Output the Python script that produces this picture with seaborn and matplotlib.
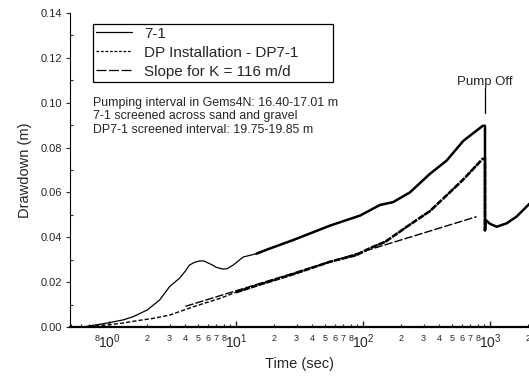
import numpy as np
import matplotlib
matplotlib.use("Agg")
import matplotlib.pyplot as plt
from matplotlib.lines import Line2D
from matplotlib.ticker import FixedLocator, FuncFormatter
import seaborn as sns

# drawdown curves (time in s, drawdown in m)
t_71 = [0.62, 0.8, 1.0, 1.3, 1.55, 2.0, 2.5, 3.0, 3.3, 3.6, 4.0, 4.3, 4.7,
        5.2, 5.6, 6.0, 6.5, 7.0, 7.9, 8.5, 9.5, 11.4, 14.5, 18.5, 28, 55, 95,
        136, 173, 234, 298, 337, 456, 617, 877, 914, 914, 925, 1000, 1130,
        1350, 1620, 2050]
dd_71 = [0.0, 0.001, 0.0019, 0.0032, 0.0046, 0.0076, 0.012, 0.018, 0.020,
         0.0218, 0.025, 0.0276, 0.0288, 0.0295, 0.0294, 0.0286, 0.0277,
         0.0266, 0.0258, 0.026, 0.0276, 0.0312, 0.0327, 0.035, 0.0387, 0.0452,
         0.0497, 0.0544, 0.0557, 0.060, 0.0655, 0.0683, 0.0742, 0.083, 0.0897,
         0.0897, 0.043, 0.0477, 0.046, 0.0447, 0.0462, 0.0492, 0.055]

t_dp = [0.62, 0.8, 1.0, 1.3, 1.75, 2.2, 3.0, 4.6, 7.5, 10, 15.5, 28, 55, 89,
        113, 150, 220, 337, 456, 617, 877, 914, 914]
dd_dp = [0.0, 0.0005, 0.001, 0.0018, 0.003, 0.0038, 0.0053, 0.009, 0.0128,
         0.0155, 0.019, 0.0235, 0.0291, 0.0321, 0.0351, 0.038, 0.0446, 0.0517,
         0.0587, 0.0658, 0.075, 0.075, 0.043]

t_slope = [4, 785]
dd_slope = [0.0092, 0.0492]

pump_off_t = 914

notes = ["Pumping interval in Gems4N: 16.40-17.01 m",
         "7-1 screened across sand and gravel",
         "DP7-1 screened interval: 19.75-19.85 m"]
legend_labels = ["7-1", "DP Installation - DP7-1", "Slope for K = 116 m/d"]

sns.set_style("ticks")
plt.rcParams['font.family'] = ['Liberation Sans', 'DejaVu Sans']
plt.rcParams['mathtext.fontset'] = 'custom'
plt.rcParams['mathtext.rm'] = 'Liberation Sans'

W, H = 529, 377
fig = plt.figure(figsize=(W / 100, H / 100), dpi=100)
ax = fig.add_axes([70 / W, 50 / H, (W - 70) / W, 314 / H])

t71 = np.array(t_71)
d71 = np.array(dd_71)
tdp = np.array(t_dp)
ddp = np.array(dd_dp)

# thin early part, thicker (noisy) later part like the original logger traces
sns.lineplot(x=t71, y=d71, ax=ax, color="k", lw=0.9, sort=False,
             estimator=None, legend=False)
late = t71 >= 12
sns.lineplot(x=t71[late], y=d71[late], ax=ax, color="k", lw=1.8, sort=False,
             estimator=None, legend=False)

sns.lineplot(x=tdp, y=ddp, ax=ax, color="k", lw=1.0, sort=False,
             estimator=None, legend=False, dashes=False)
ax.lines[-1].set_dashes((3, 1.5))
late = tdp >= 9
sns.lineplot(x=tdp[late], y=ddp[late], ax=ax, color="k", lw=1.9, sort=False,
             estimator=None, legend=False)
ax.lines[-1].set_dashes((2.5, 0.5))

sns.lineplot(x=t_slope, y=dd_slope, ax=ax, color="k", lw=1.0, sort=False,
             estimator=None, legend=False)
ax.lines[-1].set_dashes((6, 1.5))

# pump off marker
ax.plot([pump_off_t, pump_off_t], [0.0955, 0.1065], color="k", lw=0.9)
ax.text(pump_off_t, 0.1092, "Pump Off", ha="center", va="center", fontsize=9.5)

ax.set_xscale("log")
ax.set_xlim(0.493, 2030)
ax.set_ylim(0, 0.14)

majors = [1, 10, 100, 1000]
minors = [m * 10.0 ** e for e in range(-1, 4) for m in range(2, 10)]
minors = [v for v in minors if 0.49 < v < 2100 and v not in majors]
ax.xaxis.set_major_locator(FixedLocator(majors))
ax.xaxis.set_minor_locator(FixedLocator(minors))
ax.xaxis.set_major_formatter(
    FuncFormatter(lambda v, p: r"$\mathregular{10^{%d}}$" % round(np.log10(v))))


def minor_label(v, p):
    e = np.floor(np.log10(v) + 1e-9)
    m = int(round(v / 10 ** e))
    if e < 0:
        return "8" if m == 8 else ""
    return str(m) if 2 <= m <= 8 else ""


ax.xaxis.set_minor_formatter(FuncFormatter(minor_label))

ax.yaxis.set_major_locator(FixedLocator(np.arange(0, 0.141, 0.02)))
ax.yaxis.set_minor_locator(FixedLocator(np.arange(0.01, 0.14, 0.02)))
ax.yaxis.set_major_formatter(FuncFormatter(lambda v, p: "%.2f" % v))

ax.tick_params(axis="x", which="major", direction="in", length=4, width=1,
               labelsize=10, pad=4)
ax.tick_params(axis="x", which="minor", direction="in", length=2.5, width=0.8,
               labelsize=6.5, pad=5)
ax.tick_params(axis="y", which="major", direction="out", length=3, width=0.8,
               labelsize=8, pad=2.5)
ax.tick_params(axis="y", which="minor", direction="in", length=2.5, width=0.8)

for s in ["top", "right"]:
    ax.spines[s].set_visible(False)
ax.spines["bottom"].set_linewidth(1.6)
ax.spines["left"].set_linewidth(0.8)
for s in ["bottom", "left"]:
    ax.spines[s].set_color("k")

ax.set_xlabel("Time (sec)", fontsize=10.5, labelpad=4)
ax.set_ylabel("Drawdown (m)", fontsize=10.5, labelpad=6)

for i, line in enumerate(notes):
    fig.text(93 / W, 1 - (103 + 13.4 * i) / H, line, fontsize=8.9,
             ha="left", va="center")

handles = [Line2D([], [], color="k", lw=0.9),
           Line2D([], [], color="k", lw=0.9, dashes=(2.2, 1.4)),
           Line2D([], [], color="k", lw=0.9, dashes=(8, 2))]
leg = fig.legend(handles, legend_labels, loc="upper left",
                 bbox_to_anchor=(93 / W, 1 - 80 / H, 240 / W, 56 / H),
                 mode="expand", borderaxespad=0, fontsize=11,
                 frameon=True, fancybox=False, framealpha=1,
                 edgecolor="k", handlelength=2.4, handletextpad=0.75,
                 borderpad=0.18, labelspacing=0.33)
leg.get_frame().set_linewidth(0.9)

fig.savefig("out.png", dpi=100, facecolor="white")
